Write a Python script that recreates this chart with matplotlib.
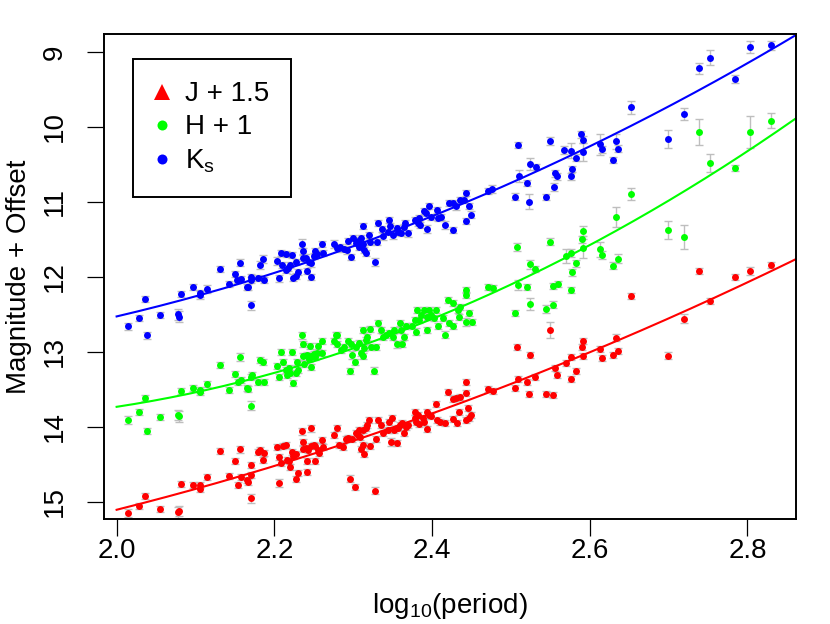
import numpy as np
import matplotlib.pyplot as plt
from matplotlib.lines import Line2D

plt.rcParams['font.family'] = ['Liberation Sans', 'DejaVu Sans']
plt.rcParams['mathtext.default'] = 'regular'

# K_s band (blue)
kx = [2.015, 2.029, 2.038, 2.036, 2.055, 2.078, 2.079, 2.082, 2.097, 2.106,
      2.106, 2.115, 2.131, 2.142, 2.150, 2.153, 2.157, 2.158, 2.165, 2.167,
      2.171, 2.170, 2.171, 2.179, 2.182, 2.186, 2.187, 2.203, 2.206, 2.209,
      2.210, 2.215, 2.215, 2.217, 2.220, 2.222, 2.224, 2.227, 2.228, 2.230,
      2.235, 2.236, 2.237, 2.240, 2.242, 2.244, 2.246, 2.247, 2.250, 2.252,
      2.254, 2.261, 2.262, 2.276, 2.280,
      2.283, 2.288, 2.292, 2.293, 2.297, 2.300, 2.303, 2.306, 2.308, 2.310,
      2.312, 2.314, 2.316, 2.320, 2.313, 2.321, 2.328, 2.330, 2.332, 2.337,
      2.338, 2.344, 2.346, 2.347, 2.350, 2.355, 2.357, 2.361, 2.365, 2.366,
      2.370, 2.379, 2.382, 2.384, 2.385, 2.390, 2.392, 2.394, 2.396, 2.399,
      2.406, 2.407, 2.412, 2.417, 2.421, 2.426, 2.426, 2.431, 2.435, 2.441,
      2.443, 2.443, 2.447, 2.450, 2.471, 2.505, 2.523, 2.544,
      2.476, 2.509, 2.510, 2.520, 2.524, 2.532, 2.550, 2.555, 2.556, 2.559,
      2.568,
      2.576, 2.577, 2.576, 2.583, 2.589, 2.592, 2.592, 2.613, 2.615, 2.629,
      2.633, 2.636, 2.652, 2.699, 2.719, 2.738, 2.753, 2.784, 2.803, 2.830]
ky = [12.66, 12.55, 12.78, 12.30, 12.51, 12.50, 12.53, 12.23, 12.14, 12.22,
      12.24, 12.16, 11.89, 12.09, 11.96, 12.04, 11.81, 12.03, 12.14, 12.14,
      12.38, 12.04, 12.00, 12.02, 11.84, 11.76, 12.04, 11.79, 12.02, 11.68,
      11.84, 11.69, 11.91, 11.88, 11.84, 11.71, 12.01, 11.99, 11.80, 11.93,
      11.56, 11.75, 11.65, 11.75, 11.92, 11.80, 12.00, 11.82, 11.72, 11.65,
      11.69, 11.56, 11.68, 11.56, 11.62,
      11.60, 11.63, 11.64, 11.52, 11.73, 11.48, 11.55, 11.52, 11.60, 11.48,
      11.56, 11.64, 11.68, 11.44, 11.32, 11.53, 11.80, 11.54, 11.28, 11.36,
      11.46, 11.40, 11.24, 11.32, 11.44, 11.35, 11.40, 11.42, 11.33, 11.28,
      11.42, 11.24, 11.28, 11.22, 11.31, 11.12, 11.15, 11.36, 11.06, 11.20,
      11.11, 11.22, 11.20, 11.31, 11.01, 11.38, 11.02, 11.06, 10.97, 10.98,
      11.25, 10.88, 11.06, 11.17, 10.86, 10.93, 11.00, 10.94,
      10.83, 10.24, 10.65, 10.75, 10.50, 10.54, 10.19, 10.80, 10.62, 10.66,
      10.31,
      10.32, 10.56, 10.66, 10.41, 10.10, 10.17, 10.33, 10.23, 10.30, 10.44,
      10.19, 10.29, 9.74, 10.16, 9.83, 9.22, 9.08, 9.36, 8.94, 8.91]
ke = [0.05, 0.04, 0.05, 0.04, 0.04, 0.07, 0.07, 0.04, 0.04, 0.05,
      0.05, 0.05, 0.04, 0.04, 0.04, 0.04, 0.05, 0.04, 0.04, 0.04,
      0.06, 0.04, 0.04, 0.04, 0.05, 0.05, 0.04, 0.05, 0.05, 0.04,
      0.04, 0.04, 0.04, 0.04, 0.04, 0.04, 0.05, 0.04, 0.04, 0.04,
      0.06, 0.04, 0.04, 0.05, 0.04, 0.04, 0.04, 0.05, 0.04, 0.04,
      0.04, 0.04, 0.04, 0.05, 0.05,
      0.04, 0.04, 0.05, 0.04, 0.04, 0.04, 0.04, 0.05, 0.04, 0.04,
      0.04, 0.04, 0.04, 0.04, 0.04, 0.04, 0.05, 0.04, 0.04, 0.04,
      0.05, 0.04, 0.04, 0.04, 0.05, 0.04, 0.04, 0.04, 0.04, 0.04,
      0.05, 0.04, 0.04, 0.04, 0.04, 0.04, 0.04, 0.05, 0.04, 0.04,
      0.04, 0.04, 0.04, 0.05, 0.04, 0.04, 0.04, 0.05, 0.04, 0.04,
      0.04, 0.04, 0.04, 0.05, 0.04, 0.05, 0.10, 0.04,
      0.05, 0.04, 0.08, 0.04, 0.08, 0.04, 0.05, 0.05, 0.05, 0.05,
      0.05,
      0.10, 0.04, 0.05, 0.05, 0.05, 0.05, 0.12, 0.14, 0.05, 0.04,
      0.10, 0.05, 0.09, 0.12, 0.08, 0.07, 0.10, 0.05, 0.08, 0.06]

# H band + 1 (green)
hx = [2.015, 2.029, 2.036, 2.038, 2.055, 2.078, 2.079, 2.082, 2.097, 2.106,
      2.106, 2.115, 2.131, 2.142, 2.150, 2.154, 2.157, 2.158, 2.165, 2.167,
      2.170, 2.171, 2.172, 2.179, 2.182, 2.186, 2.187, 2.203, 2.206, 2.209,
      2.211, 2.215, 2.216, 2.219, 2.220, 2.222, 2.224, 2.228, 2.230, 2.229,
      2.236, 2.238, 2.242, 2.244, 2.247, 2.247, 2.250, 2.252, 2.254, 2.261,
      2.235, 2.237, 2.245, 2.255, 2.261, 2.276, 2.280,
      2.278, 2.280, 2.285, 2.289, 2.293, 2.297, 2.299, 2.303, 2.308, 2.310,
      2.312, 2.314, 2.316, 2.318, 2.321, 2.322, 2.329, 2.332, 2.335, 2.338,
      2.342, 2.346, 2.350, 2.352, 2.355, 2.359, 2.361, 2.362, 2.365, 2.367,
      2.374, 2.378, 2.381, 2.380, 2.383, 2.386, 2.390, 2.393, 2.394, 2.396,
      2.399, 2.403, 2.405, 2.407, 2.414, 2.417, 2.420, 2.422, 2.426, 2.426,
      2.433, 2.434, 2.436, 2.443, 2.443, 2.443, 2.447, 2.451, 2.471, 2.477,
      2.505, 2.508, 2.509, 2.520, 2.524, 2.524, 2.531, 2.544, 2.550, 2.554,
      2.554, 2.560,
      2.302, 2.296, 2.327, 2.313,
      2.652, 2.633, 2.591, 2.590, 2.592, 2.570, 2.576, 2.583, 2.577, 2.576,
      2.613, 2.615, 2.629, 2.636, 2.699, 2.719,
      2.739, 2.753, 2.784, 2.803, 2.830]
hy = [13.91, 13.80, 13.61, 14.06, 13.87, 13.84, 13.86, 13.52, 13.48, 13.54,
      13.51, 13.43, 13.17, 13.51, 13.29, 13.40, 13.07, 13.38, 13.48, 13.50,
      13.33, 13.72, 13.31, 13.40, 13.11, 13.14, 13.40, 13.19, 13.33, 13.00,
      13.13, 13.24, 13.31, 13.22, 13.28, 13.00, 13.42, 13.28, 13.24, 13.14,
      13.06, 13.16, 13.04, 13.10, 13.20, 13.06, 13.03, 13.07, 13.01, 13.02,
      12.78, 12.89, 12.92, 12.92, 12.85, 12.86, 12.77,
      12.78, 12.89, 12.97, 12.93, 12.86, 12.89, 13.04, 12.93, 12.88, 13.02,
      12.71, 12.95, 12.84, 12.80, 12.70, 12.93, 12.93, 12.61, 12.71, 12.80,
      12.77, 12.75, 12.80, 12.71, 12.90, 12.62, 12.71, 12.90, 12.80, 12.66,
      12.66, 12.57, 12.44, 12.73, 12.57, 12.51, 12.44, 12.53, 12.71, 12.44,
      12.51, 12.55, 12.44, 12.66, 12.55, 12.77, 12.31, 12.62, 12.35, 12.66,
      12.44, 12.53, 12.40, 12.17, 12.24, 12.60, 12.48, 12.60, 12.13, 12.15,
      12.48, 11.60, 12.11, 12.13, 11.83, 12.36, 11.90, 12.43, 11.53, 12.12,
      12.37, 12.10,
      13.14, 13.25, 13.25, 13.06,
      10.89, 11.20, 11.39, 11.50, 11.62, 11.72, 11.68, 11.82, 11.94, 12.17,
      11.63, 11.71, 11.85, 11.76, 11.38, 11.47,
      10.07, 10.48, 10.55, 10.07, 9.92]
he = [0.05, 0.04, 0.04, 0.04, 0.04, 0.07, 0.07, 0.04, 0.04, 0.04,
      0.04, 0.04, 0.04, 0.04, 0.04, 0.04, 0.05, 0.04, 0.04, 0.04,
      0.04, 0.06, 0.04, 0.04, 0.04, 0.04, 0.04, 0.04, 0.04, 0.04,
      0.04, 0.04, 0.04, 0.04, 0.04, 0.04, 0.04, 0.04, 0.04, 0.04,
      0.05, 0.04, 0.04, 0.04, 0.04, 0.04, 0.04, 0.04, 0.04, 0.04,
      0.05, 0.04, 0.04, 0.04, 0.04, 0.04, 0.04,
      0.04, 0.04, 0.04, 0.04, 0.04, 0.04, 0.05, 0.04, 0.04, 0.04,
      0.04, 0.04, 0.04, 0.04, 0.04, 0.04, 0.04, 0.04, 0.04, 0.04,
      0.04, 0.04, 0.04, 0.04, 0.05, 0.04, 0.04, 0.04, 0.04, 0.04,
      0.04, 0.04, 0.04, 0.05, 0.04, 0.04, 0.04, 0.04, 0.04, 0.04,
      0.04, 0.04, 0.04, 0.04, 0.04, 0.05, 0.04, 0.04, 0.04, 0.04,
      0.04, 0.04, 0.04, 0.04, 0.04, 0.05, 0.04, 0.04, 0.04, 0.04,
      0.04, 0.05, 0.07, 0.04, 0.06, 0.08, 0.04, 0.05, 0.05, 0.04,
      0.05, 0.04,
      0.04, 0.04, 0.05, 0.04,
      0.08, 0.13, 0.07, 0.05, 0.13, 0.09, 0.05, 0.05, 0.05, 0.04,
      0.10, 0.05, 0.05, 0.06, 0.12, 0.16,
      0.17, 0.12, 0.04, 0.21, 0.10]

# J band + 1.5 (red)
jx = [2.015, 2.029, 2.036, 2.055, 2.078, 2.079, 2.082, 2.097, 2.106, 2.106,
      2.115, 2.131, 2.142, 2.150, 2.154, 2.157, 2.158, 2.165, 2.167, 2.170,
      2.170, 2.171, 2.179, 2.182, 2.186, 2.187, 2.203, 2.206, 2.206, 2.209,
      2.211, 2.215, 2.216, 2.219, 2.220, 2.222, 2.224, 2.228, 2.228, 2.230,
      2.235, 2.236, 2.237, 2.240, 2.242, 2.242, 2.243, 2.246, 2.247, 2.250,
      2.251, 2.252, 2.255, 2.257, 2.261, 2.262, 2.276, 2.280,
      2.282, 2.287, 2.291, 2.294, 2.296, 2.299, 2.302, 2.303, 2.306, 2.307,
      2.309, 2.310, 2.312, 2.314, 2.312, 2.316, 2.318, 2.320, 2.321, 2.329,
      2.332, 2.335, 2.338, 2.344, 2.346, 2.348, 2.349, 2.352, 2.355, 2.357,
      2.359, 2.362, 2.365, 2.367, 2.369, 2.378, 2.379, 2.380, 2.382, 2.384,
      2.388, 2.390, 2.393, 2.394, 2.396, 2.399, 2.405, 2.406, 2.410, 2.417,
      2.420, 2.426, 2.426, 2.431, 2.432, 2.434, 2.436, 2.443, 2.443, 2.443,
      2.445, 2.447, 2.450, 2.471, 2.477, 2.505, 2.509, 2.520, 2.523, 2.531,
      2.544, 2.554, 2.556, 2.558, 2.524, 2.328,
      2.508, 2.550, 2.739, 2.753, 2.784, 2.803, 2.830, 2.652, 2.719, 2.591,
      2.590, 2.633, 2.613, 2.636, 2.629, 2.615, 2.592, 2.576, 2.699, 2.570,
      2.583, 2.576]
jy = [15.15, 15.06, 14.92, 15.10, 15.14, 15.12, 14.76, 14.78, 14.77, 14.83,
      14.67, 14.32, 14.65, 14.45, 14.78, 14.30, 14.67, 14.71, 14.73, 14.51,
      14.64, 14.95, 14.33, 14.31, 14.44, 14.35, 14.27, 14.75, 14.40, 14.48,
      14.26, 14.24, 14.44, 14.46, 14.54, 14.33, 14.39, 14.36, 14.70, 14.61,
      14.06, 14.20, 14.29, 14.28, 14.60, 14.46, 14.31, 14.02, 14.26, 14.24,
      14.46, 14.25, 14.31, 14.35, 14.17, 14.27, 14.11, 14.01,
      14.24, 14.27, 14.16, 14.15, 14.69, 14.16, 14.80, 14.08, 14.11, 14.04,
      14.14, 14.30, 14.24, 14.36, 14.04, 14.02, 13.97, 13.91, 14.25, 14.16,
      13.91, 13.97, 14.08, 14.04, 13.94, 14.20, 13.88, 14.04, 14.21, 14.02,
      13.97, 13.95, 14.08, 14.00, 13.97, 13.88, 13.80, 13.93, 13.84, 13.96,
      13.88, 13.93, 13.80, 14.03, 13.84, 13.86, 13.69, 13.91, 13.93, 13.95,
      13.54, 13.90, 13.63, 13.62, 13.95, 13.80, 13.60, 13.55, 13.91, 13.40,
      13.75, 13.88, 13.84, 13.50, 13.52, 13.48, 13.36, 13.40, 13.56, 13.34,
      13.56, 13.57, 13.22, 13.31, 13.04, 14.85,
      12.93, 12.71, 11.92, 12.32, 12.00, 11.92, 11.84, 12.26, 12.56, 12.86,
      12.93, 12.81, 12.96, 12.99, 13.04, 13.08, 13.05, 13.07, 13.05, 13.15,
      13.26, 13.36]
je = [0.05, 0.04, 0.04, 0.04, 0.07, 0.07, 0.04, 0.04, 0.04, 0.04,
      0.04, 0.04, 0.04, 0.04, 0.04, 0.05, 0.04, 0.04, 0.04, 0.04,
      0.04, 0.06, 0.04, 0.04, 0.04, 0.04, 0.04, 0.05, 0.04, 0.04,
      0.04, 0.04, 0.04, 0.04, 0.04, 0.04, 0.04, 0.04, 0.04, 0.04,
      0.05, 0.04, 0.04, 0.04, 0.04, 0.04, 0.04, 0.05, 0.04, 0.04,
      0.04, 0.04, 0.04, 0.04, 0.04, 0.04, 0.04, 0.04,
      0.04, 0.04, 0.04, 0.04, 0.05, 0.04, 0.04, 0.04, 0.04, 0.04,
      0.04, 0.04, 0.04, 0.04, 0.04, 0.04, 0.04, 0.04, 0.04, 0.04,
      0.04, 0.04, 0.04, 0.04, 0.04, 0.05, 0.04, 0.04, 0.04, 0.04,
      0.04, 0.04, 0.04, 0.04, 0.04, 0.04, 0.04, 0.04, 0.04, 0.04,
      0.04, 0.04, 0.04, 0.04, 0.04, 0.04, 0.04, 0.04, 0.04, 0.04,
      0.04, 0.04, 0.04, 0.04, 0.04, 0.04, 0.04, 0.04, 0.04, 0.04,
      0.04, 0.04, 0.04, 0.04, 0.04, 0.04, 0.04, 0.04, 0.04, 0.04,
      0.04, 0.04, 0.04, 0.04, 0.04, 0.05,
      0.04, 0.11, 0.04, 0.04, 0.04, 0.05, 0.04, 0.04, 0.06, 0.04,
      0.04, 0.05, 0.04, 0.04, 0.04, 0.04, 0.04, 0.04, 0.05, 0.04,
      0.04, 0.04]

# quadratic fit coefficients, in powers of (x - 2.4)
fit_j = [-1.45, -3.79, 13.82]
fit_h = [-3.33, -4.26, 12.56]
fit_k = [-2.20, -4.22, 11.19]

labels = ['J + 1.5', 'H + 1', 'K$_s$']
colors = ['#FF0000', '#00FF00', '#0000FF']
xticks = [2.0, 2.2, 2.4, 2.6, 2.8]
yticks = [9, 10, 11, 12, 13, 14, 15]

fig = plt.figure(figsize=(8.3, 6.24), dpi=100)
ax = fig.add_axes([104 / 830, 1 - 519 / 624, 692 / 830, 485 / 624])

xs = np.linspace(2.0, 2.9, 200)
groups = [(jx, jy, je, fit_j, colors[0]),
          (hx, hy, he, fit_h, colors[1]),
          (kx, ky, ke, fit_k, colors[2])]
for x, y, e, coef, c in groups:
    ax.errorbar(x, y, yerr=e, fmt='none', ecolor='#BEBEBE', elinewidth=1.0,
                capsize=3.0, capthick=1.0, zorder=1)
    ax.plot(x, y, 'o', color=c, ms=5.0, mew=0, zorder=3)
    ax.plot(xs, np.polyval(coef, xs - 2.4), color=c, lw=1.5, zorder=2)

ax.set_xlim(1.984, 2.8616)
ax.set_ylim(15.227, 8.76)
ax.set_xticks(xticks)
ax.set_xticklabels([f'{t:.1f}' for t in xticks])
ax.set_yticks(yticks)
ax.set_yticklabels([str(t) for t in yticks])
ax.tick_params(length=12, width=0.9, labelsize=20, direction='out')
ax.tick_params(axis='x', pad=2)
ax.tick_params(axis='y', pad=14, labelrotation=90)
for lab in ax.get_yticklabels():
    lab.set_va('center')
for s in ax.spines.values():
    s.set_linewidth(1.4)

ax.set_xlabel('log$_{10}$(period)', fontsize=20, va='center')
ax.xaxis.set_label_coords(0.5, (519 - 606) / 485)
ax.set_ylabel('Magnitude + Offset', fontsize=20, va='center')
ax.yaxis.set_label_coords((19 - 104) / 692, 0.5)

handles = [
    Line2D([0], [0], marker='^', color=colors[0], ls='none', ms=12, mew=0),
    Line2D([0], [0], marker='o', color=colors[1], ls='none', ms=7.2, mew=0),
    Line2D([0], [0], marker='o', color=colors[2], ls='none', ms=7.2, mew=0),
]
leg = ax.legend(handles, labels, loc='upper left',
                bbox_to_anchor=((133 - 104) / 692, (519 - 59) / 485),
                borderaxespad=0, fontsize=20, fancybox=False, edgecolor='black',
                framealpha=1, borderpad=0.8, handlelength=0.46,
                handletextpad=0.6, labelspacing=0.26)
leg.get_frame().set_linewidth(1.4)

fig.savefig('out.png', dpi=100)
